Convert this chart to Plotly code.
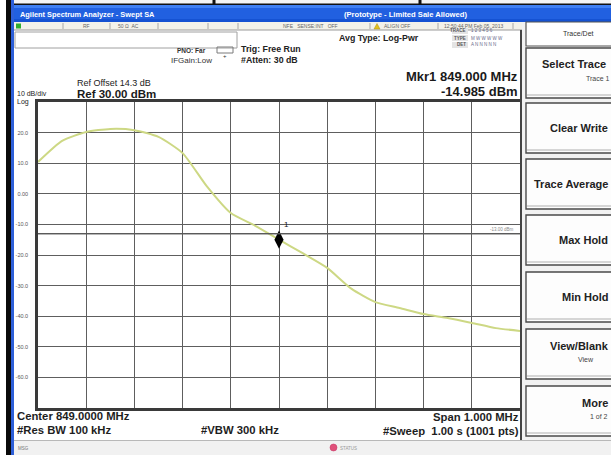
import plotly.graph_objects as go

W, H = 611, 455

# Trace 1 readings (frequency in MHz, level in dBm)
freq_mhz = [848.50, 848.55, 848.60, 848.65, 848.70, 848.75, 848.80, 848.85, 848.90, 848.95,
            849.00, 849.05, 849.10, 849.15, 849.20, 849.25, 849.30, 849.35, 849.40, 849.45, 849.50]
level_dbm = [10.4, 17.3, 20.2, 21.2, 20.8, 18.6, 13.3, 2.5, -6.3, -10.4,
             -14.985, -19.5, -24.2, -31.0, -35.4, -37.3, -39.3, -40.6, -42.2, -43.9, -44.8]

marker_freq = 849.000
marker_level = -14.985
display_line = -13.0
ref_level = 30.0
db_per_div = 10.0
center_mhz = 849.0
span_mhz = 1.0

y_ticks = [20, 10, 0, -10, -20, -30, -40, -50, -60]
y_tick_text = ["20.0", "10.0", "0.00", "-10.0", "-20.0", "-30.0", "-40.0", "-50.0", "-60.0"]

# softkey: label, sub label, top, bottom, label x (None = right-aligned at panel edge), sub label x
softkeys = [
    ("Select Trace", "Trace 1", 48, 98, 541, 585),
    ("Clear Write", "", 103, 153, None, 0),
    ("Trace Average", "", 159, 209, None, 0),
    ("Max Hold", "", 215, 265, None, 0),
    ("Min Hold", "", 272, 322, None, 0),
    ("View/Blank", "View", 329, 379, 549, 577),
    ("More", "1 of 2", 386, 436, None, 589),
]

FONT = "Liberation Sans, Arial, sans-serif"


def px(x):
    return x / W


def py(y):
    return 1 - y / H


shapes = []
annotations = []


def rect(x0, y0, x1, y1, fill=None, line=None, lw=0):
    shapes.append(dict(type="rect", xref="paper", yref="paper",
                       x0=px(x0), x1=px(x1), y0=py(y1), y1=py(y0),
                       fillcolor=fill if fill else "rgba(0,0,0,0)",
                       line=dict(color=line if line else "rgba(0,0,0,0)", width=lw)))


def seg(x0, y0, x1, y1, color, lw=1):
    shapes.append(dict(type="line", xref="paper", yref="paper",
                       x0=px(x0), x1=px(x1), y0=py(y0), y1=py(y1),
                       line=dict(color=color, width=lw)))


def text(x, y, s, size, bold=False, color="#1e1e1e", anchor="left"):
    annotations.append(dict(x=px(x), y=py(y), xref="paper", yref="paper",
                            text=f"<b>{s}</b>" if bold else s, showarrow=False,
                            xanchor=anchor, yanchor="middle", borderpad=0,
                            font=dict(family=FONT, size=size, color=color)))


# ---- window frame ----
rect(0, 0, 6, H, fill="#dfe3ec")
rect(6, 0, 11, H, fill="#0a0a0a")
rect(11, 0, 14, H, fill="#2d5fd8")
rect(14, 0, W, 5, fill="#f4f4f4")
seg(14, 4.5, W, 4.5, "#111111", 2)
seg(214, 0, 214, 5, "#111111", 3)
seg(420, 0, 420, 5, "#111111", 3)

# title bar
rect(14, 5, W, 22, fill="#2160e0")
rect(14, 5, W, 8, fill="#3f7ff2")
rect(14, 19, W, 22, fill="#1552d2")
text(19, 14, "Agilent Spectrum Analyzer - Swept SA", 7.4, bold=True, color="#ffffff")
text(405, 14, "(Prototype - Limited Sale Allowed)", 7.6, bold=True, color="#ffffff", anchor="center")

# status row
rect(14, 22, 523, 30, fill="#f3f2ea")
seg(14, 30, 523, 30, "#9a9a9a", 1)
rect(16, 23.5, 21, 28.5, fill="#2fae2f")
for sx in [63, 110, 158, 208, 238, 370, 438, 513]:
    seg(sx, 23, sx, 29, "#a8a8a8", 1)
text(82, 26, "RF", 5, color="#666666")
text(117, 26, "50 Ω  AC", 5, color="#666666")
text(282, 26, "NFE   SENSE:INT   OFF", 5, color="#666666")
shapes.append(dict(type="path", xref="paper", yref="paper",
                   path=f"M {px(374)},{py(29)} L {px(380)},{py(29)} L {px(377)},{py(23.5)} Z",
                   fillcolor="#e0c020", line=dict(color="#b09010", width=0.5)))
text(383, 26, "ALIGN OFF", 5, color="#666666")
text(443, 26, "12:50:44 PM Feb 05, 2013", 5, color="#666666")

# empty entry box and settings
rect(15, 32, 237, 48, line="#a0a0a0", lw=1)
rect(217, 47, 233, 53, line="#7a7a7a", lw=1)
text(225, 56, "+", 6, color="#333333", anchor="center")
text(191, 50, "PNO: Far", 6.5, bold=True, color="#333333", anchor="center")
text(191, 61, "IFGain:Low", 8, color="#333333", anchor="center")
text(240, 49, "Trig: Free Run", 8.8, bold=True, color="#222222")
text(240, 60, "#Atten: 30 dB", 8.8, bold=True, color="#222222")
text(338, 38, "Avg Type: Log-Pwr", 8.8, bold=True, color="#222222")

# trace/type/detector table
for ty, lab, vals in [(31, "TRACE", "1 2 3 4 5 6"), (38, "TYPE", "M W W W W W"), (45, "DET", "A N N N N N")]:
    rect(452, ty - 3, 468, ty + 3, fill="#e4e4e4")
    text(467, ty, lab, 4.5, bold=True, color="#555555", anchor="right")
    text(470, ty, vals, 4.5, color="#6a6a8a")

# marker readout
text(519, 76.5, f"Mkr1 {marker_freq:.3f} MHz", 13, bold=True, color="#1a1a1a", anchor="right")
text(519, 92, f"{marker_level:.3f} dBm", 13, bold=True, color="#1a1a1a", anchor="right")

# reference info
text(76, 83, "Ref Offset 14.3 dB", 9, color="#222222")
text(76, 94, f"Ref {ref_level:.2f} dBm", 11.5, bold=True, color="#1a1a1a")
text(16, 94, f"{db_per_div:.0f} dB/div", 7, color="#222222")
text(16, 102.5, "Log", 7, color="#222222")

# bottom annotations
text(16, 416, f"Center {center_mhz:.4f} MHz", 11.3, bold=True)
text(16, 430, "#Res BW 100 kHz", 11.3, bold=True)
text(200, 430, "#VBW 300 kHz", 11.3, bold=True)
text(520, 417, f"Span {span_mhz:.3f} MHz", 11.3, bold=True, anchor="right")
text(520, 431, "#Sweep  1.00 s (1001 pts)", 11.3, bold=True, anchor="right")

# separator between screen and softkeys
seg(521, 30, 521, 440, "#444444", 2)

# bottom status bar
rect(14, 440, W, H, fill="#f1f1f1")
seg(14, 440.5, W, 440.5, "#b8b8b8", 1)
text(17, 448, "MSG", 4.5, color="#777777")
shapes.append(dict(type="circle", xref="paper", yref="paper",
                   x0=px(330), x1=px(337), y0=py(451), y1=py(444),
                   fillcolor="#e0507a", line=dict(color="#c03060", width=0.5)))
text(339, 448, "STATUS", 4.5, color="#999999")

# softkey panel
rect(522, 22, W, 440, fill="#f2f2f2")
rect(526, 22, W + 5, 46, fill="#ffffff", line="#555555", lw=1.2)
text(578, 34, "Trace/Det", 7, color="#333333", anchor="center")
for label, sub, top, bot, tx, sx in softkeys:
    rect(526, top, W + 5, bot, fill="#fdfdfd", line="#4a4a4a", lw=1.4)
    seg(527, bot - 3, W, bot - 3, "#c8c8c8", 1.5)
    lx, anchor = (tx, "left") if tx is not None else (609, "right")
    if sub:
        text(lx, top + (bot - top) * 0.33, label, 11, bold=True, color="#222222", anchor=anchor)
        text(sx, top + (bot - top) * 0.61, sub, 7, color="#444444")
    else:
        text(lx, (top + bot) / 2, label, 11, bold=True, color="#222222", anchor=anchor)

fig = go.Figure()

# measured trace
fig.add_trace(go.Scatter(x=freq_mhz, y=level_dbm, mode="lines",
                         line=dict(color="#cdd884", width=2, shape="spline", smoothing=0.6),
                         hoverinfo="skip", showlegend=False))

# marker 1
fig.add_trace(go.Scatter(x=[marker_freq], y=[marker_level], mode="markers",
                         marker=dict(symbol="diamond-tall", size=13, color="#000000"),
                         hoverinfo="skip", showlegend=False))
annotations.append(dict(x=marker_freq, y=marker_level, xref="x", yref="y", text="1",
                        showarrow=False, xshift=7, yshift=15,
                        font=dict(family=FONT, size=8, color="#111111")))

# display line
fig.add_shape(type="line", xref="x", yref="y", x0=center_mhz - span_mhz / 2,
              x1=center_mhz + span_mhz / 2, y0=display_line, y1=display_line,
              line=dict(color="#5a5a5a", width=1.3))
annotations.append(dict(x=px(516), y=display_line, xref="paper", yref="y",
                        text=f"{display_line:.2f} dBm", showarrow=False, xanchor="right",
                        yanchor="middle", yshift=4,
                        font=dict(family=FONT, size=4.5, color="#8a8a8a")))

fig.update_layout(
    width=W, height=H,
    margin=dict(l=0, r=0, t=0, b=0),
    paper_bgcolor="#ffffff",
    plot_bgcolor="#ffffff",
    shapes=shapes + list(fig.layout.shapes),
    annotations=annotations,
    xaxis=dict(domain=[px(38), px(520)],
               range=[center_mhz - span_mhz / 2, center_mhz + span_mhz / 2],
               dtick=span_mhz / 10, tick0=center_mhz - span_mhz / 2,
               showticklabels=False, ticks="",
               showgrid=True, gridcolor="#5e5e5e", gridwidth=1.4,
               zeroline=False, showline=True, mirror=True,
               linecolor="#3a3a3a", linewidth=2.5, fixedrange=True),
    yaxis=dict(domain=[py(408), py(102)],
               range=[ref_level - 10 * db_per_div, ref_level],
               tickvals=y_ticks, ticktext=y_tick_text,
               tickfont=dict(family=FONT, size=5.5, color="#555555"),
               ticks="", ticklabelstandoff=6,
               showgrid=True, gridcolor="#5e5e5e", gridwidth=1.4,
               zeroline=False, showline=True, mirror=True,
               linecolor="#3a3a3a", linewidth=2.5, fixedrange=True),
)

fig.write_html("out.html")
